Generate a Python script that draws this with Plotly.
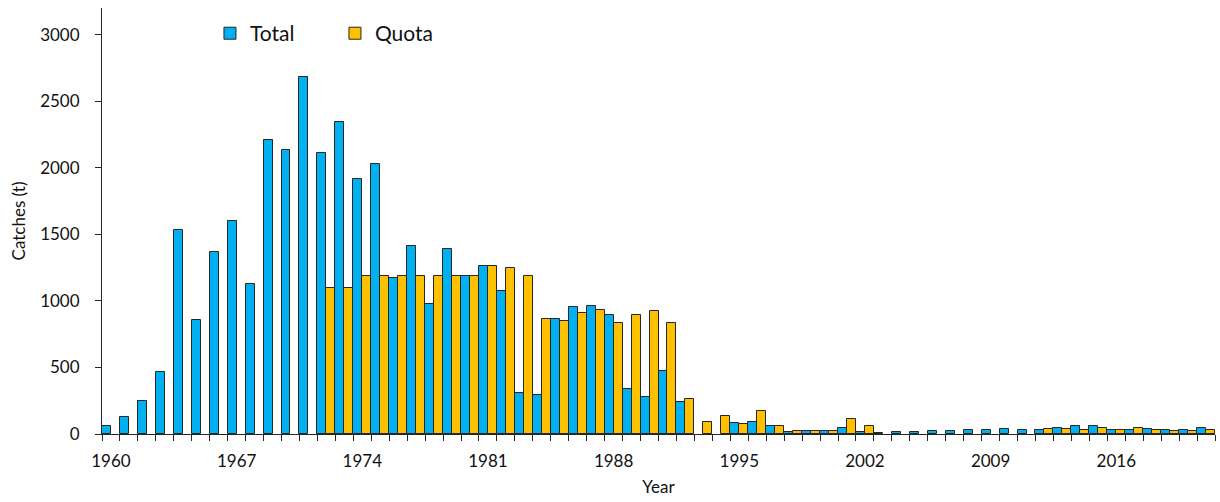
import plotly.graph_objects as go

years = list(range(1960, 2022))

total = [60, 130, 245, 465, 1535, 860, 1365, 1600, 1125, 2205,
         2135, 2685, 2110, 2340, 1915, 2030, 1170, 1415, 980, 1390,
         1190, 1262, 1075, 307, 295, 862, 957, 965, 892, 337,
         275, 472, 237, None, None, 82, 92, 57, 12, 20,
         20, 42, 12, 10, 15, 15, 22, 25, 27, 27,
         40, 30, 32, 47, 60, 60, 27, 30, 40, 30,
         32, 42]

quota = [None] * 12 + [1100, 1100, 1190, 1190, 1190, 1190, 1190, 1190,
         1190, 1265, 1250, 1190, 867, 850, 907, 932, 837, 897,
         922, 837, 260, 90, 137, 75, 172, 57, 20, 20,
         20, 112, 57] + [None] * 9 + [35, 35, 30, 45, 32, 45, 30, 20, 20, 30]

label_years = [1960, 1967, 1974, 1981, 1988, 1995, 2002, 2009, 2016]
y_ticks = [0, 500, 1000, 1500, 2000, 2500, 3000]

FONT = "Lato, 'Open Sans', sans-serif"
LINE = "#262626"

fig = go.Figure()
fig.add_trace(go.Bar(x=years, y=total, name="Total",
                     marker=dict(color="#00B0F0", line=dict(color=LINE, width=1))))
fig.add_trace(go.Bar(x=years, y=quota, name="Quota",
                     marker=dict(color="#FFC000", line=dict(color=LINE, width=1))))

fig.update_layout(
    width=1220, height=502,
    margin=dict(l=102, r=5, t=8, b=68),
    plot_bgcolor="white", paper_bgcolor="white",
    barmode="group", bargap=0, bargroupgap=0,
    font=dict(family=FONT, size=17, color="#111111"),
    legend=dict(orientation="h", x=0.097, y=0.94, xanchor="left", yanchor="middle",
                font=dict(size=21), entrywidth=80, bgcolor="rgba(0,0,0,0)"),
    xaxis=dict(
        range=[1959.5, 2021.5], tickmode="array", tickvals=label_years,
        ticktext=[str(y) for y in label_years], ticks="", showgrid=False,
        showline=True, linecolor=LINE, linewidth=1, zeroline=False,
        ticklabelstandoff=12,
        minor=dict(tickmode="linear", tick0=1959.5, dtick=1, ticks="outside",
                   ticklen=6, tickcolor=LINE, showgrid=False),
        title=dict(text="Year", standoff=10, font=dict(size=17)),
    ),
    yaxis=dict(
        range=[0, 3200], tickmode="array", tickvals=y_ticks,
        ticks="outside", ticklen=6, tickcolor=LINE, showgrid=False,
        showline=True, linecolor=LINE, linewidth=1, zeroline=False,
        ticklabelstandoff=12,
        title=dict(text="Catches (t)", standoff=10, font=dict(size=17)),
    ),
)

fig.write_html("out.html", config={"displayModeBar": False},
               post_script="document.body.style.margin='0';document.body.style.overflow='hidden';")
